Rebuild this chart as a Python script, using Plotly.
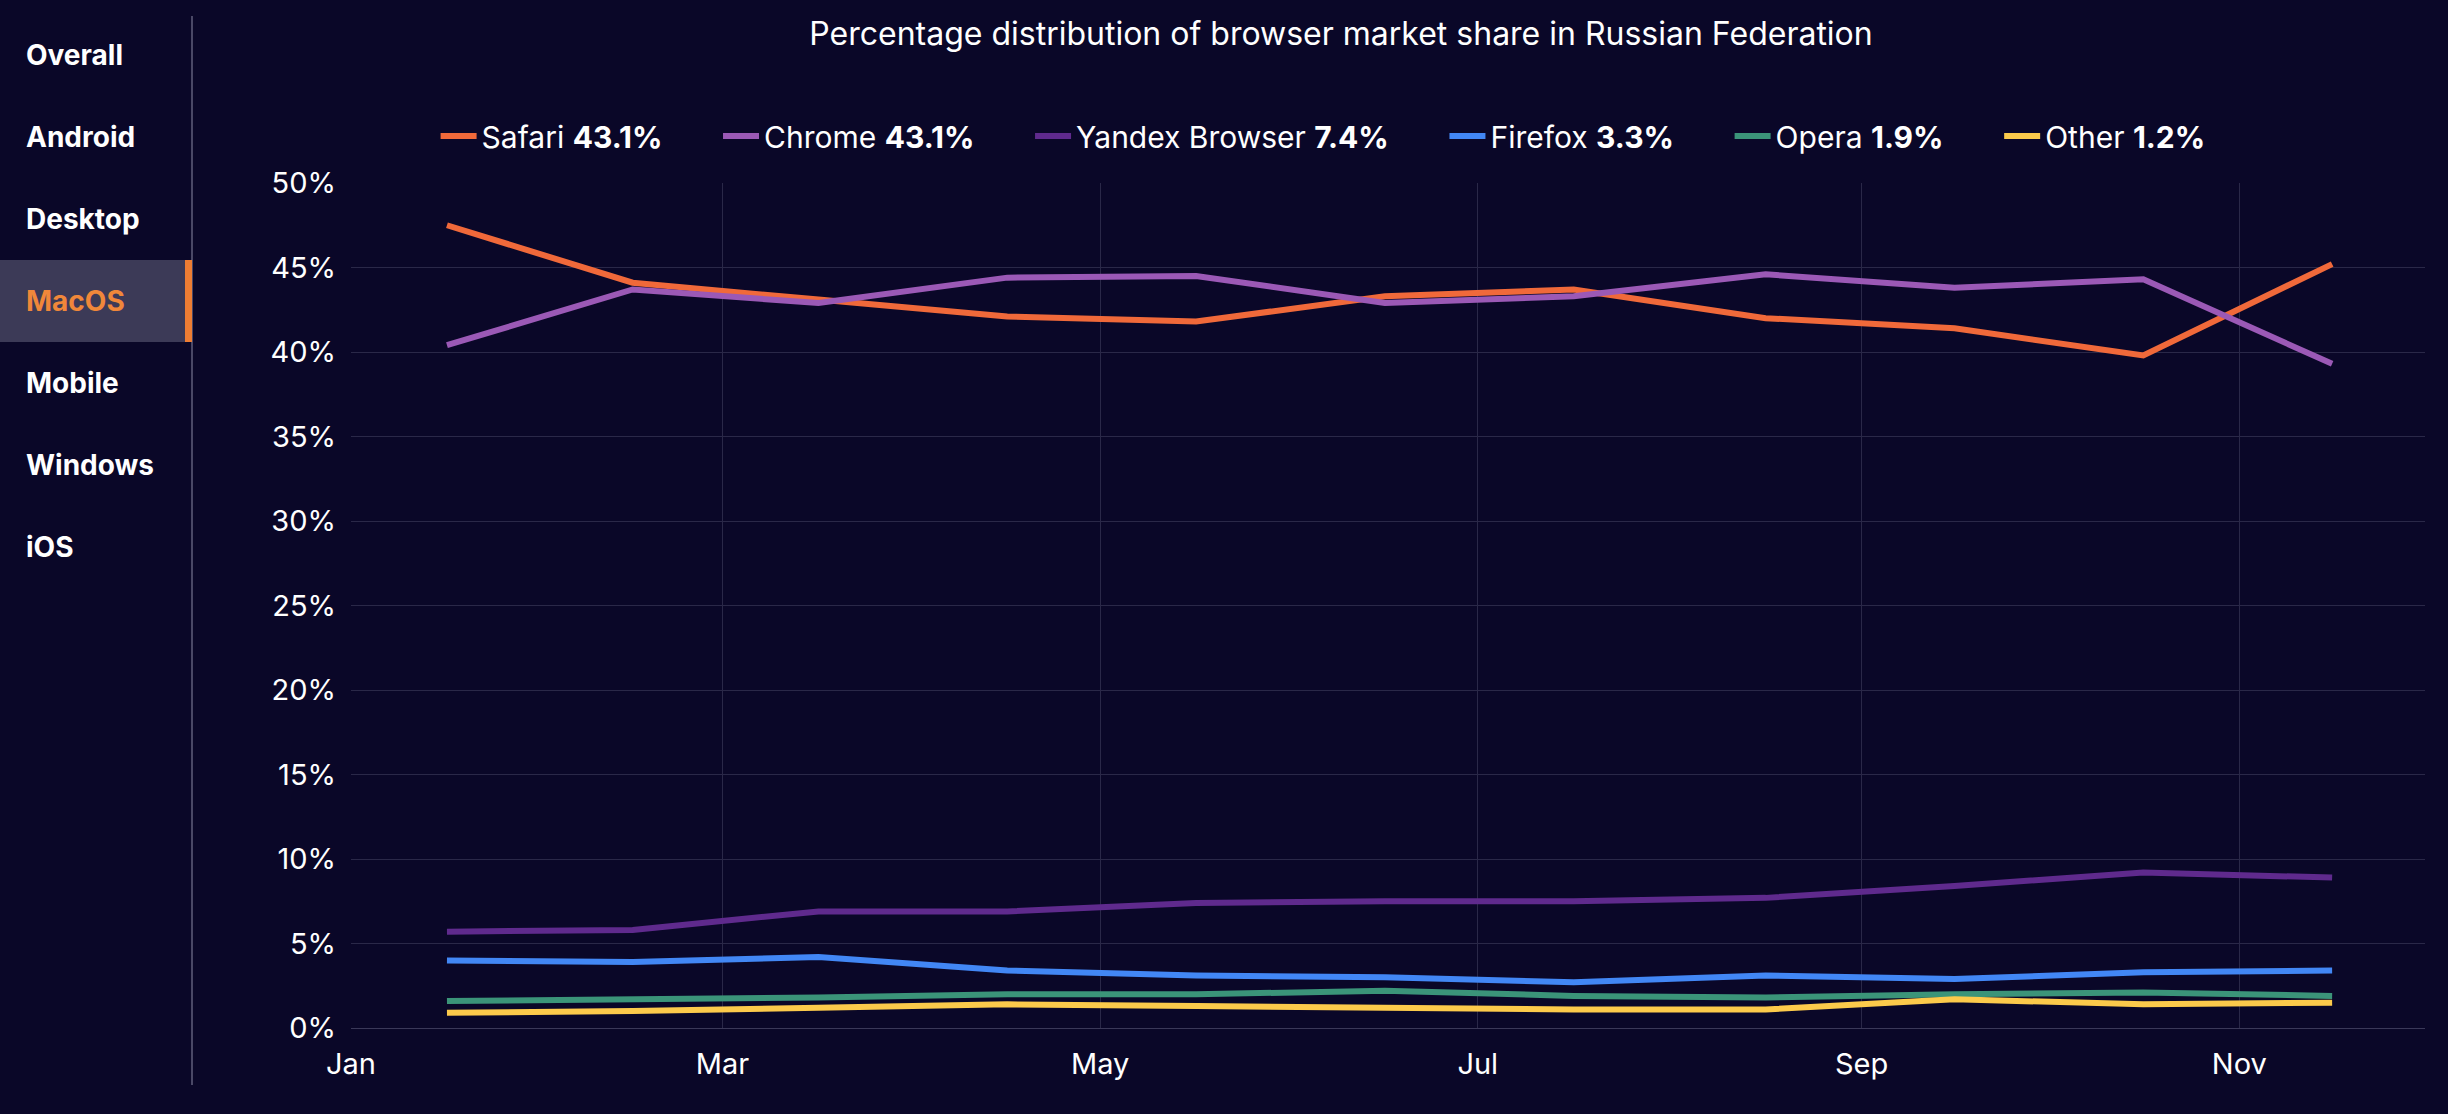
import plotly.graph_objects as go

# monthly shares, 2024 (values in %)
months = ["2024-01", "2024-02", "2024-03", "2024-04", "2024-05", "2024-06",
          "2024-07", "2024-08", "2024-09", "2024-10", "2024-11"]
safari = [47.5, 44.1, 43.1, 42.1, 41.8, 43.3, 43.7, 42.0, 41.4, 39.8, 45.2]
chrome = [40.4, 43.7, 42.9, 44.4, 44.5, 42.9, 43.3, 44.6, 43.8, 44.3, 39.3]
yandex = [5.7, 5.8, 6.9, 6.9, 7.4, 7.5, 7.5, 7.7, 8.4, 9.2, 8.9]
firefox = [4.0, 3.9, 4.2, 3.4, 3.1, 3.0, 2.7, 3.1, 2.9, 3.3, 3.4]
opera = [1.6, 1.7, 1.8, 2.0, 2.0, 2.2, 1.9, 1.8, 2.0, 2.1, 1.9]
other = [0.9, 1.0, 1.2, 1.4, 1.3, 1.2, 1.1, 1.1, 1.7, 1.4, 1.5]

browsers = ["Safari", "Chrome", "Yandex Browser", "Firefox", "Opera", "Other"]
shares = [43.1, 43.1, 7.4, 3.3, 1.9, 1.2]
series = [safari, chrome, yandex, firefox, opera, other]
colours = ["#f0693a", "#9b59b6", "#5f2a8d", "#4287f5", "#3b9479", "#fcca4b"]

menu_items = ["Overall", "Android", "Desktop", "MacOS", "Mobile", "Windows", "iOS"]
active_item = "MacOS"

W, H = 2448, 1114
L, R, T, B = 351, 23, 183, 86
bg = "#0a0728"
grid = "#2a2848"
gap = "\u00a0" * 6  # extra room after each legend entry


def px_x(p):
    return (p - L) / (W - L - R)


def px_y(p):
    return (H - B - p) / (H - T - B)


fig = go.Figure()

for name, share, values, colour in zip(browsers, shares, series, colours):
    fig.add_trace(go.Scatter(
        x=months,
        y=values,
        xperiod="M1",
        xperiodalignment="middle",
        mode="lines",
        name=f"{name} <b>{share}%</b>{gap}",
        line=dict(color=colour, width=6),
    ))

# side menu
shapes = [
    dict(type="line", xref="paper", yref="paper",
         x0=px_x(192), x1=px_x(192), y0=px_y(16), y1=px_y(1085),
         line=dict(color="#4a4866", width=2)),
]
annotations = []
for i, item in enumerate(menu_items):
    yc = 55 + i * 82
    colour = "#ffffff"
    if item == active_item:
        shapes.append(dict(type="rect", xref="paper", yref="paper",
                           x0=px_x(0), x1=px_x(192), y0=px_y(yc + 41), y1=px_y(yc - 41),
                           fillcolor="#3c3a57", line_width=0, layer="below"))
        shapes.append(dict(type="rect", xref="paper", yref="paper",
                           x0=px_x(185), x1=px_x(192), y0=px_y(yc + 41), y1=px_y(yc - 41),
                           fillcolor="#ee7d33", line_width=0))
        colour = "#f0873a"
    annotations.append(dict(
        text=f"<b>{item}</b>", xref="paper", yref="paper",
        x=px_x(24), y=px_y(yc), xanchor="left", yanchor="middle",
        showarrow=False, font=dict(size=28, color=colour, family="Inter"),
    ))

fig.update_layout(
    width=W,
    height=H,
    margin=dict(l=L, r=R, t=T, b=B),
    paper_bgcolor=bg,
    plot_bgcolor=bg,
    font=dict(family="Inter", size=29, color="#ffffff"),
    title=dict(
        text="Percentage distribution of browser market share in Russian Federation",
        font=dict(size=32, color="#ffffff"),
        x=1341 / W, xanchor="center", xref="container",
        y=1 - 34 / H, yanchor="middle", yref="container",
    ),
    legend=dict(
        orientation="h",
        x=0.481, xanchor="center",
        y=px_y(136), yanchor="middle",
        font=dict(size=30, color="#ffffff"),
        itemwidth=36,
        bgcolor="rgba(0,0,0,0)",
    ),
    xaxis=dict(
        type="date",
        range=["2024-01-01", "2024-12-01"],
        dtick="M2",
        tick0="2024-01-01",
        tickformat="%b",
        showgrid=True,
        gridcolor=grid,
        gridwidth=1,
        showline=True,
        linecolor="#3a3858",
        linewidth=1,
        ticks="",
        ticklabelstandoff=10,
        zeroline=False,
    ),
    yaxis=dict(
        range=[0, 50],
        dtick=5,
        ticksuffix="%",
        showgrid=True,
        gridcolor=grid,
        gridwidth=1,
        showline=False,
        zeroline=False,
        ticks="",
        ticklabelstandoff=14,
    ),
    shapes=shapes,
    annotations=annotations,
    showlegend=True,
    hovermode="x unified",
)

fig.write_html(
    "out.html",
    config={"displayModeBar": False},
    post_script="document.body.style.margin='0';document.body.style.background='#0a0728';",
)
